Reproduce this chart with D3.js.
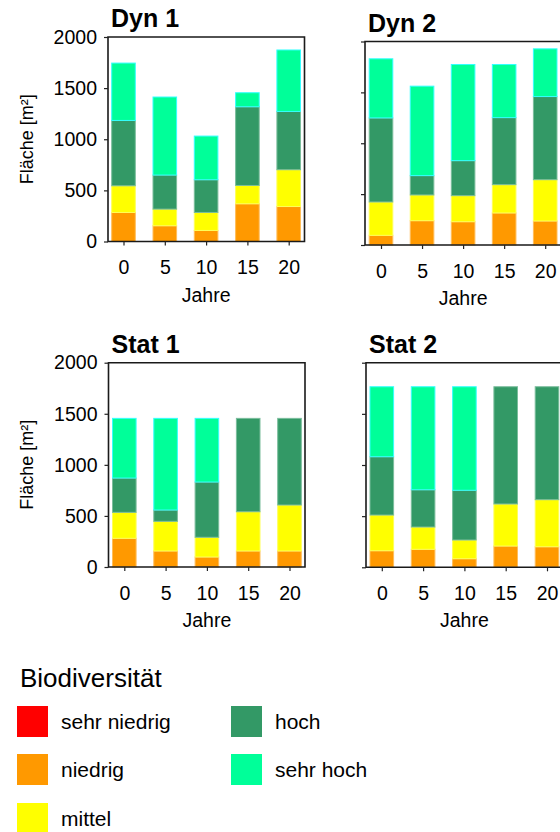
<!DOCTYPE html>
<html><head><meta charset="utf-8">
<script src="https://cdn.jsdelivr.net/npm/d3@7"></script>
<style>
html,body{margin:0;padding:0;background:#fff;}
svg{display:block;font-family:"Liberation Sans",Arial,sans-serif;}
</style></head>
<body>
<svg id="chart" width="560" height="832"></svg>
<script>
// ---------- data ----------
const years = [0, 5, 10, 15, 20];
const categories = ["sehr niedrig", "niedrig", "mittel", "hoch", "sehr hoch"];
const colors = ["#ff0000", "#ff9900", "#ffff00", "#339966", "#00ff99"];
const yTicks = [0, 500, 1000, 1500, 2000];
const panelTitles = ["Dyn 1", "Dyn 2", "Stat 1", "Stat 2"];

// segment values per year: [sehr niedrig, niedrig, mittel, hoch, sehr hoch]
const dyn1 = [
  [0, 284, 261, 639, 561],
  [0, 154, 163, 333, 763],
  [0, 108, 176, 320, 427],
  [0, 369, 179, 770, 137],
  [0, 342, 360, 570, 601]
];
const dyn2 = [
  [0, 95, 328, 826, 581],
  [0, 239, 253, 190, 879],
  [0, 229, 256, 344, 945],
  [0, 315, 278, 659, 522],
  [0, 236, 406, 817, 469]
];
const stat1 = [
  [0, 281, 254, 336, 584],
  [0, 157, 290, 111, 897],
  [0, 98, 193, 541, 623],
  [0, 157, 384, 914, 0],
  [0, 157, 450, 848, 0]
];
const stat2 = [
  [0, 162, 349, 570, 684],
  [0, 176, 218, 364, 1007],
  [0, 84, 183, 486, 1012],
  [0, 208, 411, 1146, 0],
  [0, 201, 460, 1104, 0]
];
const panelData = [dyn1, dyn2, stat1, stat2];

// ---------- layout ----------
const panels = [
  {left:108, right:304.5, top:37, bottom:241.5, x0:123.5, x20:288.7, labels:true, rightFrame:true},
  {left:365, right:620, top:41.5, bottom:245, x0:381, x20:545.2, labels:false, rightFrame:false},
  {left:108.5, right:305, top:362.7, bottom:567, x0:124.3, x20:289.5, labels:true, rightFrame:true},
  {left:366, right:620, top:362.7, bottom:567.3, x0:381.8, x20:547, labels:false, rightFrame:false}
];
const barW = 23.6;
const FONT = "Liberation Sans, Arial, sans-serif";

const svg = d3.select("#chart");

panels.forEach((p, i) => {
  const g = svg.append("g");
  const y = d3.scaleLinear().domain([0, 2000]).range([p.bottom, p.top]);
  const x = d3.scaleLinear().domain([0, 20]).range([p.x0, p.x20]);

  const rows = panelData[i].map((vals, j) => {
    const o = {year: years[j]};
    categories.forEach((c, k) => o[c] = vals[k]);
    return o;
  });
  const stack = d3.stack().keys(categories)(rows);

  stack.forEach((layer, k) => {
    g.selectAll(null).data(layer.filter(d => d[1] - d[0] > 0)).join("rect")
      .attr("x", d => x(d.data.year) - barW / 2)
      .attr("width", barW)
      .attr("y", d => y(d[1]))
      .attr("height", d => y(d[0]) - y(d[1]))
      .attr("fill", colors[k])
      .attr("stroke", k === 4 ? "#33ffff" : d3.interpolateRgb(colors[k], "#ffffff")(0.35))
      .attr("stroke-width", 1);
  });

  // frame
  const frame = g.append("path")
    .attr("fill", "none").attr("stroke", "#1a1a1a").attr("stroke-width", 1.6);
  if (p.rightFrame) {
    frame.attr("d", `M${p.left},${p.top}H${p.right}V${p.bottom}H${p.left}Z`);
  } else {
    frame.attr("d", `M${p.right},${p.top}H${p.left}V${p.bottom}H${p.right}`);
  }

  // y axis
  const ya = d3.axisLeft(y).tickValues(yTicks).tickSize(4).tickPadding(7)
    .tickFormat(p.labels ? d3.format("d") : () => "");
  const yg = g.append("g").attr("transform", `translate(${p.left},0)`).call(ya);
  yg.select(".domain").remove();
  yg.selectAll("line").attr("stroke", "#222").attr("stroke-width", 1.2);
  yg.selectAll("text").attr("font-size", 19.5).attr("fill", "#000").attr("font-family", FONT);

  // x axis
  const xa = d3.axisBottom(x).tickValues(years).tickSize(4).tickPadding(15);
  const xg = g.append("g").attr("transform", `translate(0,${p.bottom})`).call(xa);
  xg.select(".domain").remove();
  xg.selectAll("line").attr("stroke", "#222").attr("stroke-width", 1.2);
  xg.selectAll("text").attr("font-size", 19.5).attr("fill", "#000").attr("font-family", FONT);

  // title
  g.append("text").attr("x", p.left + 3).attr("y", p.top - 10)
    .attr("font-size", 25).attr("font-weight", "bold").text(panelTitles[i]);

  // x label
  g.append("text").attr("x", (p.x0 + p.x20) / 2).attr("y", p.bottom + 60)
    .attr("text-anchor", "middle").attr("font-size", 19.5).text("Jahre");

  // y label
  if (p.labels) {
    g.append("text")
      .attr("transform", `translate(33,${(p.top + p.bottom) / 2}) rotate(-90)`)
      .attr("text-anchor", "middle").attr("font-size", 18).text("Fläche [m²]");
  }
});

// ---------- legend ----------
const lg = svg.append("g");
lg.append("text").attr("x", 20).attr("y", 687).attr("font-size", 26).text("Biodiversität");
const legendPos = [[17, 706], [17, 754], [17, 803], [231, 706], [231, 754]];
categories.forEach((c, k) => {
  const [lx, ly] = legendPos[k];
  lg.append("rect").attr("x", lx).attr("y", ly).attr("width", 31).attr("height", 31)
    .attr("fill", colors[k]);
  lg.append("text").attr("x", lx + 44).attr("y", ly + 23).attr("font-size", 21).text(c);
});
</script>
</body></html>
